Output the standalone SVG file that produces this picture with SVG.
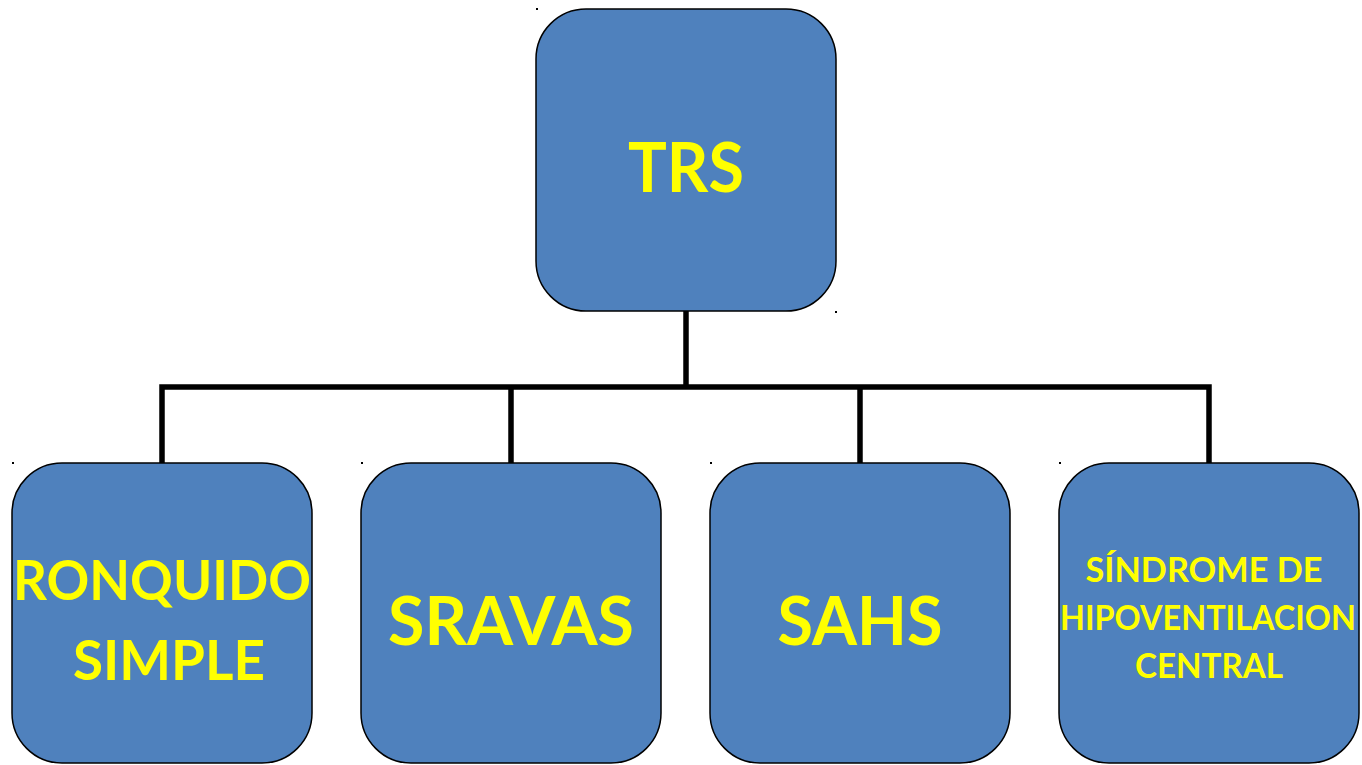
<svg xmlns="http://www.w3.org/2000/svg" width="1362" height="765" viewBox="0 0 1362 765">
<style>
.box{fill:#4F81BD;stroke:#000;stroke-width:1.5}
.t{fill:#FFFF00;font-family:Lato,"Open Sans","Liberation Sans",sans-serif;font-weight:bold;text-anchor:middle}
.c{fill:none;stroke:#000;stroke-width:5.5;stroke-linejoin:miter;stroke-linecap:butt}
.d{fill:#000}
</style>
<rect width="1362" height="765" fill="#fff"/>
<g id="connectors">
<path class="c" d="M686 311 V387"/>
<path class="c" d="M162 463 V387 H1209 V463"/>
<path class="c" d="M511 387 V463"/>
<path class="c" d="M860 387 V463"/>
</g>
<g id="trs">
<rect class="box" x="536" y="9" width="300" height="302" rx="50" ry="50"/>
<text class="t" x="686" y="192" font-size="68" textLength="116" lengthAdjust="spacingAndGlyphs">TRS</text>
</g>
<g id="ronquido">
<rect class="box" x="12" y="463" width="300" height="300" rx="50" ry="50"/>
<text class="t" x="162" y="600" font-size="56" textLength="298" lengthAdjust="spacingAndGlyphs">RONQUIDO</text>
<text class="t" x="169" y="680" font-size="56" textLength="192" lengthAdjust="spacingAndGlyphs">SIMPLE</text>
</g>
<g id="sravas">
<rect class="box" x="361" y="463" width="300" height="300" rx="50" ry="50"/>
<text class="t" x="511" y="645" font-size="67" textLength="246" lengthAdjust="spacingAndGlyphs">SRAVAS</text>
</g>
<g id="sahs">
<rect class="box" x="710" y="463" width="300" height="300" rx="50" ry="50"/>
<text class="t" x="860" y="645" font-size="67" textLength="165" lengthAdjust="spacingAndGlyphs">SAHS</text>
</g>
<g id="sindrome">
<rect class="box" x="1059" y="463" width="300" height="300" rx="50" ry="50"/>
<text class="t" x="1204" y="582" font-size="35" textLength="237" lengthAdjust="spacingAndGlyphs">SÍNDROME DE</text>
<text class="t" x="1208" y="630" font-size="35" textLength="296" lengthAdjust="spacingAndGlyphs">HIPOVENTILACION</text>
<text class="t" x="1209" y="678" font-size="35" textLength="148" lengthAdjust="spacingAndGlyphs">CENTRAL</text>
</g>
<g id="marks">
<rect class="d" x="536" y="8" width="2" height="2"/>
<rect class="d" x="835" y="311" width="2" height="2"/>
<rect class="d" x="12" y="462" width="2" height="2"/>
<rect class="d" x="361" y="462" width="2" height="2"/>
<rect class="d" x="710" y="462" width="2" height="2"/>
<rect class="d" x="1059" y="462" width="2" height="2"/>
</g>
</svg>
